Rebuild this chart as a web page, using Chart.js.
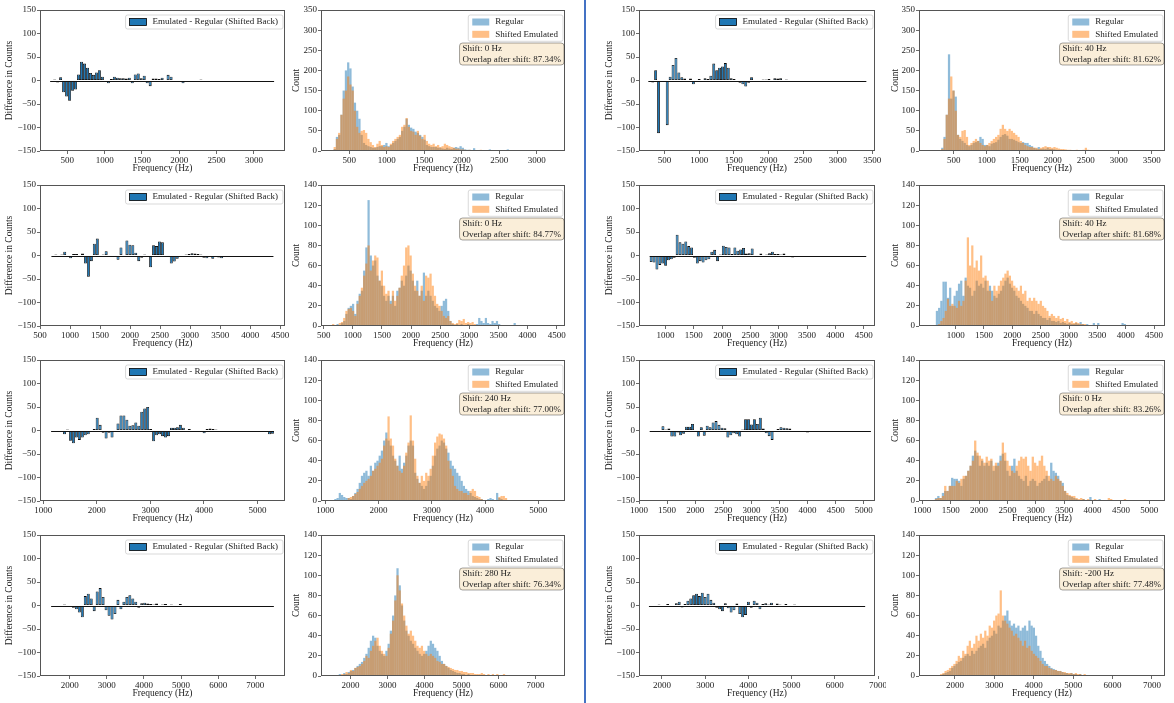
<!DOCTYPE html>
<html>
<head>
<meta charset="utf-8">
<script src="https://cdn.jsdelivr.net/npm/chart.js@4.4.1/dist/chart.umd.min.js"></script>
<style>
  html, body { margin: 0; padding: 0; background: #fff; width: 1174px; height: 703px; overflow: hidden; }
  .cell { position: absolute; }
  #divider { position: absolute; left: 584px; top: 0; width: 2px; height: 703px; background: #4472c4; }
</style>
</head>
<body>
<div id="divider"></div>
<script>
"use strict";

// ---- row 1, left (shift 0 Hz) ----
const r1LeftDiffBins = [270, 40];
const r1LeftDiff = [
  -1, 2, -4, 7, -25, -34, -43, -22, -19, 13,
  40, 36, 27, 16, 12, 17, 22, 8, 0, -6,
  3, 8, 6, 5, 5, 4, 6, -6, 13, 15,
  5, 10, -6, -12, 4, 4, 3, 6, 1, 12,
  8, 0, -3, -3, -6, -1, 0, -2, 0, 0,
  2, 0, -1, -2, 0, -1, 0, 0, -1, -3,
  -2, 0, 0, 0, 0, 1, -1, 0, 0, 0,
  0, 0, -1, 0, -1];
const r1LeftHistBins = [290, 30];
const r1LeftRegular = [
  5, 35, 40, 90, 150, 200, 220, 205, 160, 120,
  100, 80, 40, 20, 15, 12, 10, 8, 8, 10,
  12, 12, 15, 20, 12, 15, 20, 25, 30, 35,
  50, 60, 80, 65, 58, 55, 48, 45, 40, 35,
  28, 15, 12, 10, 10, 10, 8, 8, 6, 5,
  8, 6, 5, 8, 10, 8, 12, 8, 4, 3,
  3, 2, 7, 2, 1, 2, 2, 1, 2, 4,
  2, 1, 1, 2, 1, 1, 2, 4, 1, 1,
  0, 1, 1, 0, 1, 0, 1, 0, 1, 0,
  0, 1, 0, 0, 1, 0, 0, 1, 0, 0];
const r1LeftEmulated = [
  10, 30, 45, 90, 130, 150, 185, 165, 150, 100,
  60, 45, 50, 52, 45, 30, 22, 15, 10, 18,
  25, 15, 10, 12, 10, 18, 25, 30, 35, 40,
  60, 65, 82, 60, 50, 48, 40, 50, 38, 30,
  40, 25, 18, 15, 18, 12, 15, 10, 12, 18,
  15, 12, 10, 8, 6, 6, 4, 4, 3, 2,
  3, 2, 1, 2, 1, 3, 2, 1, 1, 2,
  1, 1, 0, 1, 1, 0, 1, 1, 0, 1,
  0, 0, 1, 0, 0, 1, 0, 0, 0, 0,
  1, 0, 0, 0, 0, 0, 1, 0, 0, 1];
const r1LeftNote = ['Shift: 0 Hz', 'Overlap after shift: 87.34%'];

// ---- row 1, right (shift 40 Hz) ----
const r1RightDiffBins = [265, 42];
const r1RightDiff = [
  -1, -4, 22, -112, 0, -2, -95, 8, 33, 48,
  17, 7, 4, 0, 4, -8, -2, 3, 0, 5,
  3, 10, 36, 22, 27, 30, 37, 27, 5, 3,
  -2, -5, -8, -13, -5, 7, -2, -2, 0, 2,
  2, 3, -2, 5, 4, 5, 0, 2, 0, -1,
  0, -2, 1, 1, 0, -1, 0, 0, 1, 0,
  0, -1, 0, 0, 0, 1, 0, 0, 0, 0,
  1, 0, 0, 0, -1];
const r1RightHistBins = [140, 34];
const r1RightRegular = [
  0, 0, 1, 0, 2, 8, 35, 90, 240, 130,
  150, 135, 40, 30, 25, 20, 15, 12, 15, 20,
  22, 25, 35, 30, 15, 15, 12, 18, 20, 22,
  28, 35, 40, 42, 38, 30, 30, 28, 25, 22,
  20, 22, 20, 20, 15, 12, 8, 6, 10, 5,
  6, 5, 8, 5, 5, 4, 3, 3, 2, 2,
  1, 2, 1, 1, 2, 1, 1, 0, 1, 1,
  1, 0, 1, 0, 1, 0, 0, 1, 0, 0,
  1, 0, 0, 0, 1, 0, 0, 0, 1, 0,
  0, 0, 1, 0, 0, 0, 0, 1, 0, 0];
const r1RightEmulated = [
  0, 0, 0, 1, 2, 5, 30, 90, 130, 185,
  150, 100, 40, 35, 50, 52, 35, 15, 20, 25,
  30, 25, 20, 15, 12, 15, 20, 25, 30, 35,
  40, 55, 65, 55, 50, 55, 50, 45, 40, 35,
  25, 20, 15, 12, 10, 10, 8, 8, 5, 8,
  10, 12, 10, 10, 8, 10, 8, 6, 5, 5,
  4, 3, 3, 2, 2, 3, 2, 2, 3, 8,
  3, 2, 1, 1, 1, 0, 1, 1, 0, 1,
  0, 1, 0, 0, 1, 0, 0, 0, 1, 0,
  0, 1, 0, 0, 0, 0, 1, 0, 0, 0];
const r1RightNote = ['Shift: 40 Hz', 'Overlap after shift: 81.62%'];

// ---- row 2, left (shift 0 Hz) ----
const r2LeftDiffBins = [690, 49.3];
const r2LeftDiff = [
  0, 2, 1, 2, 8, -1, -6, 3, 3, -3,
  4, -17, -45, -12, 25, 36, -2, 2, 9, 0,
  -1, -2, -9, 17, -2, 32, 23, 22, 6, -12,
  -5, 2, -1, -25, 22, 20, 30, 28, 0, -2,
  -17, -13, -7, 1, 0, 2, 3, 5, 4, 3,
  2, -5, -6, -1, -7, -3, -4, -6, -3, 0,
  1, 0, -1, 0, 0, 1, 0, -1, 0, 0,
  0, 1, 0, 0, 0];
const r2LeftHistBins = [644, 38];
const r2LeftRegular = [
  1, 0, 2, 1, 3, 5, 12, 18, 20, 22,
  12, 25, 32, 35, 55, 78, 125, 70, 60, 65,
  50, 45, 40, 30, 25, 30, 25, 30, 20, 35,
  38, 45, 40, 50, 60, 55, 45, 35, 45, 30,
  35, 53, 30, 35, 30, 25, 20, 18, 15, 20,
  25, 27, 15, 5, 2, 1, 2, 1, 2, 1,
  1, 2, 1, 0, 1, 2, 8, 5, 3, 8,
  3, 2, 5, 3, 5, 2, 1, 1, 0, 1,
  0, 1, 3, 0, 1, 0, 1, 0, 0, 1,
  0, 0, 0, 1, 0, 0, 0, 1, 0, 0];
const r2LeftEmulated = [
  2, 1, 1, 3, 4, 8, 15, 17, 18, 15,
  10, 22, 30, 38, 50, 62, 80, 55, 65, 70,
  68, 45, 55, 40, 32, 35, 22, 35, 25, 30,
  38, 50, 60, 78, 80, 70, 52, 40, 35, 30,
  40, 25, 50, 48, 52, 40, 30, 22, 20, 15,
  10, 8, 10, 5, 3, 2, 3, 6, 5, 7,
  3, 4, 3, 4, 2, 1, 1, 0, 1, 0,
  1, 0, 0, 1, 0, 0, 0, 1, 0, 0,
  0, 0, 0, 0, 0, 1, 0, 0, 0, 0,
  0, 1, 0, 0, 0, 0, 1, 0, 0, 1];
const r2LeftNote = ['Shift: 0 Hz', 'Overlap after shift: 84.77%'];

// ---- row 2, right (shift 40 Hz) ----
const r2RightDiffBins = [720, 51];
const r2RightDiff = [
  -14, -15, -30, -20, -17, -22, -10, -8, -5, 44,
  28, 25, 30, 20, 17, -5, -17, -12, -15, -10,
  -8, 8, 12, -12, 2, 21, 18, 17, 3, 17,
  10, 13, 16, 4, 5, 15, 0, 1, 4, -3,
  2, 5, 8, 3, 3, 2, 4, -2, -1, -4,
  -1, 0, -1, 1, -2, 0, 0, 1, 0, 1,
  0, -1, 0, -2, 0, 1, 0, 0, 0, 0,
  1, 0, 0, 0, 0];
const r2RightHistBins = [650, 39];
const r2RightRegular = [
  15, 18, 25, 44, 44, 28, 38, 20, 30, 35,
  42, 45, 30, 48, 40, 38, 30, 35, 45, 40,
  42, 38, 45, 35, 40, 35, 30, 28, 32, 35,
  40, 45, 48, 42, 38, 35, 30, 28, 25, 22,
  20, 18, 15, 15, 12, 15, 12, 10, 8, 8,
  6, 8, 5, 5, 4, 5, 3, 4, 3, 2,
  3, 2, 2, 3, 2, 4, 2, 1, 2, 1,
  1, 3, 1, 3, 1, 0, 1, 0, 1, 0,
  1, 0, 0, 1, 3, 2, 0, 1, 0, 0,
  1, 0, 0, 0, 0, 1, 0, 0, 1, 0];
const r2RightEmulated = [
  0, 2, 5, 8, 15, 27, 20, 22, 20, 18,
  25, 20, 25, 45, 88, 60, 80, 58, 65, 55,
  70, 48, 50, 45, 35, 25, 40, 35, 40, 45,
  48, 52, 55, 50, 45, 40, 38, 35, 40, 32,
  35, 25, 28, 25, 28, 25, 22, 25, 20, 18,
  15, 10, 12, 10, 8, 10, 7, 8, 5, 7,
  4, 5, 3, 4, 3, 2, 2, 2, 1, 1,
  1, 0, 1, 0, 1, 0, 0, 1, 0, 0,
  0, 0, 1, 0, 0, 1, 1, 0, 0, 0,
  0, 0, 1, 0, 0, 0, 0, 0, 0, 0];
const r2RightNote = ['Shift: 40 Hz', 'Overlap after shift: 81.68%'];

// ---- row 3, left (shift 240 Hz) ----
const r3LeftDiffBins = [1146, 55.5];
const r3LeftDiff = [
  -2, -3, -1, 0, -8, 2, -22, -27, -15, -20,
  -15, -10, -8, -3, 3, 27, 12, -5, -17, -5,
  -15, -2, 15, 32, 32, 23, 10, 11, 17, 10,
  40, 47, 50, 3, -23, -10, -8, -12, -15, -12,
  6, 6, 7, 12, 6, 0, 3, 0, -2, -2,
  -3, -6, 3, 4, 3, 2, 0, -1, -1, 0,
  1, 0, 1, 0, 0, 1, 0, 0, 0, 0,
  -1, -2, -3, -8, -7];
const r3LeftHistBins = [1127, 41.6];
const r3LeftRegular = [
  1, 2, 3, 8, 6, 4, 3, 3, 2, 5,
  8, 12, 18, 25, 28, 30, 25, 35, 30, 38,
  40, 45, 50, 60, 68, 60, 55, 45, 40, 35,
  45, 32, 38, 45, 55, 60, 55, 28, 22, 18,
  15, 12, 15, 20, 25, 35, 45, 52, 55, 60,
  58, 52, 48, 40, 35, 32, 28, 25, 20, 15,
  12, 10, 8, 5, 4, 3, 2, 2, 1, 1,
  2, 3, 2, 1, 8, 3, 2, 1, 1, 0,
  1, 0, 0, 1, 0, 1, 0, 0, 1, 0,
  0, 1, 0, 1, 0, 0, 1, 0, 0, 1];
const r3LeftEmulated = [
  0, 0, 0, 1, 0, 1, 1, 3, 4, 5,
  7, 9, 12, 15, 18, 20, 22, 25, 30, 32,
  35, 38, 42, 55, 62, 84, 62, 55, 42, 35,
  30, 28, 35, 48, 58, 85, 60, 42, 25, 18,
  25, 20, 28, 25, 32, 45, 58, 64, 67, 66,
  62, 55, 40, 32, 25, 15, 12, 10, 10, 8,
  8, 6, 10, 12, 10, 5, 4, 2, 1, 0,
  1, 0, 1, 0, 1, 4, 5, 5, 3, 1,
  0, 1, 0, 0, 0, 0, 1, 0, 0, 0,
  0, 0, 1, 0, 0, 0, 0, 0, 0, 0];
const r3LeftNote = ['Shift: 240 Hz', 'Overlap after shift: 77.00%'];

// ---- row 3, right (shift 0 Hz) ----
const r3RightDiffBins = [1190, 52.5];
const r3RightDiff = [
  0, 0, -1, -2, 9, 2, 4, -13, -13, -4,
  -10, -7, 8, 8, 14, -2, -13, 7, -11, 10,
  7, 17, 20, 12, 6, 5, -15, -10, -6, -8,
  -13, 2, 24, 24, 13, 24, 14, 27, 4, -6,
  -12, -20, -3, 3, 7, 6, 5, 4, 1, 0,
  0, -1, 0, -4, 0, -1, 0, -1, -2, 0,
  -1, 0, -1, 0, 0, -1, 0, 0, 0, -1,
  0, 0, 0, 0, 0];
const r3RightHistBins = [1140, 40.6];
const r3RightRegular = [
  1, 1, 3, 5, 3, 8, 10, 10, 15, 23,
  22, 22, 20, 15, 22, 25, 30, 35, 45, 50,
  45, 35, 40, 35, 38, 35, 40, 30, 35, 38,
  45, 47, 40, 30, 25, 35, 42, 30, 25, 22,
  20, 25, 15, 20, 22, 20, 15, 18, 20, 22,
  25, 20, 38, 30, 28, 25, 20, 18, 10, 6,
  5, 4, 3, 2, 1, 1, 2, 1, 1, 4,
  1, 0, 1, 2, 1, 0, 1, 0, 1, 0,
  1, 0, 1, 0, 0, 1, 0, 0, 0, 1,
  0, 0, 0, 0, 1, 0, 0, 0, 1, 0];
const r3RightEmulated = [
  0, 0, 2, 3, 3, 5, 15, 10, 15, 15,
  15, 20, 18, 22, 25, 25, 30, 35, 40, 60,
  48, 45, 42, 38, 44, 40, 42, 35, 38, 35,
  40, 58, 48, 40, 35, 30, 28, 35, 40, 44,
  42, 44, 35, 30, 44, 38, 35, 40, 45, 35,
  30, 25, 22, 20, 25, 22, 20, 15, 10, 8,
  6, 5, 5, 3, 2, 3, 2, 1, 2, 1,
  1, 2, 1, 1, 0, 1, 1, 3, 2, 1,
  0, 1, 1, 0, 2, 0, 0, 1, 0, 0,
  1, 0, 0, 1, 0, 0, 0, 0, 0, 0];
const r3RightNote = ['Shift: 0 Hz', 'Overlap after shift: 83.26%'];

// ---- row 4, left (shift 280 Hz) ----
const r4LeftDiffBins = [1500, 80];
const r4LeftDiff = [
  0, -1, 1, -2, 2, -3, 1, -5, -8, -15,
  -25, 20, 25, 15, -12, 30, 37, 18, -10, -22,
  -30, -18, 12, -8, 8, 18, 22, 15, 8, -5,
  5, 6, 4, 3, 2, 4, -3, 2, 3, -2,
  2, 1, -2, 3, 1, -1, 0, 1, -1, 0,
  0, 1, 0, 0, -1, 0, 0, 1, 0, 0,
  0, 0, -1, 0, 0, 0, 1, 0, 0, 0,
  0, 0, 0, -1, 0];
const r4LeftHistBins = [1500, 60];
const r4LeftRegular = [
  0, 1, 0, 2, 1, 3, 2, 4, 5, 6,
  8, 10, 12, 14, 18, 22, 28, 35, 40, 38,
  30, 25, 22, 20, 25, 32, 45, 60, 80, 107,
  90, 70, 55, 45, 40, 35, 32, 28, 25, 22,
  20, 22, 25, 30, 35, 32, 28, 25, 20, 15,
  12, 10, 8, 6, 5, 4, 3, 3, 2, 2,
  1, 2, 1, 1, 0, 1, 0, 1, 0, 0,
  1, 0, 0, 0, 1, 0, 0, 0, 1, 0,
  0, 0, 0, 1, 0, 0, 0, 0, 1, 0,
  0, 0, 0, 1, 0, 0, 0, 0, 0, 1];
const r4LeftEmulated = [
  1, 0, 1, 1, 2, 2, 4, 3, 6, 5,
  8, 9, 10, 12, 15, 20, 18, 25, 30, 35,
  38, 30, 25, 22, 20, 28, 42, 55, 75, 100,
  85, 72, 60, 50, 42, 45, 40, 35, 30, 28,
  30, 25, 22, 20, 22, 20, 18, 15, 14, 12,
  12, 10, 9, 8, 7, 6, 6, 5, 5, 4,
  4, 3, 3, 3, 2, 2, 2, 3, 2, 1,
  2, 1, 2, 1, 2, 1, 1, 2, 1, 0,
  1, 0, 1, 0, 0, 1, 0, 0, 0, 0,
  1, 0, 0, 0, 0, 0, 0, 1, 0, 0];
const r4LeftNote = ['Shift: 280 Hz', 'Overlap after shift: 76.34%'];

// ---- row 4, right (shift -200 Hz) ----
const r4RightDiffBins = [1700, 66.7];
const r4RightDiff = [
  0, 1, -1, 2, 0, -2, 3, 1, -3, 5,
  8, -4, 3, 10, 15, 22, 25, 20, 27, 18,
  25, 12, 6, -5, -8, -12, 5, -6, -15, -10,
  4, -18, -25, -20, 8, -5, 10, 6, -8, 3,
  5, 2, 6, -3, 4, 2, -2, 3, 1, -1,
  2, 0, 1, -1, 0, 1, 0, 0, -1, 0,
  0, 1, 0, 0, 0, -1, 0, 0, 0, 1,
  0, 0, 0, 0, 0];
const r4RightHistBins = [1400, 56];
const r4RightRegular = [
  0, 0, 0, 1, 1, 2, 3, 4, 5, 8,
  10, 12, 14, 15, 18, 20, 22, 20, 25, 22,
  25, 28, 30, 32, 28, 35, 38, 40, 45, 42,
  50, 48, 55, 60, 65, 55, 50, 52, 48, 50,
  45, 48, 50, 45, 55, 50, 48, 40, 30, 25,
  18, 15, 12, 10, 8, 7, 6, 5, 5, 4,
  3, 3, 2, 3, 2, 2, 1, 2, 1, 1,
  0, 1, 0, 1, 0, 0, 1, 0, 0, 0,
  1, 0, 0, 0, 0, 1, 0, 0, 0, 0,
  0, 1, 0, 0, 0, 1, 0, 0, 0, 0];
const r4RightEmulated = [
  0, 0, 0, 0, 2, 3, 5, 6, 8, 10,
  12, 15, 20, 18, 25, 22, 30, 35, 28, 32,
  40, 35, 42, 38, 45, 40, 50, 48, 55, 60,
  62, 85, 60, 55, 52, 48, 45, 40, 42, 38,
  35, 30, 35, 28, 30, 25, 22, 20, 18, 15,
  12, 10, 10, 8, 7, 6, 6, 5, 5, 4,
  4, 3, 3, 3, 2, 3, 2, 2, 1, 2,
  1, 1, 1, 0, 1, 0, 0, 1, 0, 0,
  0, 1, 0, 0, 0, 0, 0, 1, 0, 0,
  0, 0, 0, 0, 1, 0, 0, 0, 0, 0];
const r4RightNote = ['Shift: -200 Hz', 'Overlap after shift: 77.48%'];

// ---- axis limits and ticks ----
const r1Ticks = [500, 1000, 1500, 2000, 2500, 3000];
const r1RightTicks = [500, 1000, 1500, 2000, 2500, 3000, 3500];
const r2LeftTicks = [500, 1000, 1500, 2000, 2500, 3000, 3500, 4000, 4500];
const r2RightTicks = [1000, 1500, 2000, 2500, 3000, 3500, 4000, 4500];
const r3LeftTicks = [1000, 2000, 3000, 4000, 5000];
const r3RightTicks = [1000, 1500, 2000, 2500, 3000, 3500, 4000, 4500, 5000];
const r4Ticks = [2000, 3000, 4000, 5000, 6000, 7000];
const diffYTicks = [-150, -100, -50, 0, 50, 100, 150];
const histYTicksTall = [0, 50, 100, 150, 200, 250, 300, 350];
const histYTicks = [0, 20, 40, 60, 80, 100, 120, 140];

const FONT = "'Liberation Serif', 'DejaVu Serif', serif";
const TEXT = '#222';
const BLUE = '#1f77b4';
const BLUE_A = 'rgba(31, 119, 180, 0.5)';
const ORANGE_A = 'rgba(255, 127, 14, 0.5)';

// cell geometry: left pad places the y title, yW is the y-axis box width
const COLS = [
  { x: 0, w: 290, padL: 4, yW: 36, padR: 5 },
  { x: 290, w: 290, padL: 1, yW: 30, padR: 15 },
  { x: 590, w: 296, padL: 14, yW: 35, padR: 11 },
  { x: 880, w: 294, padL: 10, yW: 29, padR: 9 },
];
const ROWS = [0, 175, 350, 525];
const CELL_H = 175;
const PAD_TOP = 10;
const X_AXIS_H = 24;

const fmtTick = (v) => (v < 0 ? '\u2212' + Math.abs(v) : String(v));

const binCenters = (bins, n) => Array.from({ length: n }, (_, i) => bins[0] + bins[1] * (i + 0.5));

const toPoints = (bins, values) => {
  const xs = binCenters(bins, values.length);
  return values.map((v, i) => ({ x: xs[i], y: v }));
};

const boxPath = (ctx, x, y, w, h, r) => {
  ctx.beginPath();
  ctx.moveTo(x + r, y);
  ctx.lineTo(x + w - r, y);
  ctx.quadraticCurveTo(x + w, y, x + w, y + r);
  ctx.lineTo(x + w, y + h - r);
  ctx.quadraticCurveTo(x + w, y + h, x + w - r, y + h);
  ctx.lineTo(x + r, y + h);
  ctx.quadraticCurveTo(x, y + h, x, y + h - r);
  ctx.lineTo(x, y + r);
  ctx.quadraticCurveTo(x, y, x + r, y);
  ctx.closePath();
};

// zero line, frame, legend and note box, drawn over the bars
const makeDecor = (p) => ({
  id: 'decor',
  afterDatasetsDraw(chart) {
    const { ctx, chartArea: a, scales } = chart;
    ctx.save();

    if (p.zero) {
      const y = Math.round(scales.y.getPixelForValue(0)) + 0.5;
      ctx.strokeStyle = '#111';
      ctx.lineWidth = 1;
      ctx.beginPath();
      ctx.moveTo(scales.x.getPixelForValue(p.zero[0]), y);
      ctx.lineTo(scales.x.getPixelForValue(p.zero[1]), y);
      ctx.stroke();
    }

    ctx.strokeStyle = '#555';
    ctx.lineWidth = 1;
    ctx.strokeRect(a.left + 0.5, a.top + 0.5, a.right - a.left - 1, a.bottom - a.top - 1);

    ctx.font = '9px ' + FONT;
    ctx.textBaseline = 'middle';
    const textW = Math.max(...p.legend.map((it) => ctx.measureText(it.label).width));
    const lw = 27 + textW + 5;
    const lh = 14 + 12.3 * (p.legend.length - 1);
    const lx = a.right - 2 - lw;
    const ly = a.top + 5;
    boxPath(ctx, lx, ly, lw, lh, 2);
    ctx.fillStyle = 'rgba(255,255,255,0.85)';
    ctx.fill();
    ctx.strokeStyle = '#cfcfcf';
    ctx.lineWidth = 0.8;
    ctx.stroke();
    p.legend.forEach((it, i) => {
      const cy = ly + 7 + 12.3 * i;
      ctx.fillStyle = it.fill;
      ctx.fillRect(lx + 4, cy - 3.5, 17, 7);
      if (it.stroke) {
        ctx.strokeStyle = it.stroke;
        ctx.lineWidth = 0.8;
        ctx.strokeRect(lx + 4, cy - 3.5, 17, 7);
      }
      ctx.fillStyle = TEXT;
      ctx.fillText(it.label, lx + 27, cy);
    });

    if (p.note) {
      const nw = Math.max(...p.note.map((t) => ctx.measureText(t).width)) + 6;
      const nh = 22;
      const nx = a.right - 1 - nw;
      const ny = a.top + 33;
      boxPath(ctx, nx, ny, nw, nh, 3);
      ctx.fillStyle = 'rgba(245, 222, 179, 0.5)';
      ctx.fill();
      ctx.strokeStyle = 'rgba(0, 0, 0, 0.45)';
      ctx.lineWidth = 0.8;
      ctx.stroke();
      ctx.fillStyle = TEXT;
      p.note.forEach((t, i) => ctx.fillText(t, nx + 3, ny + 6 + 10.7 * i));
    }
    ctx.restore();
  },
});

const axisCommon = {
  offset: false,
  grid: { display: true, offset: false, drawOnChartArea: false, drawTicks: true, tickLength: 3, color: '#444', lineWidth: 0.8 },
  border: { display: false },
};

const buildChart = (p) => {
  const col = COLS[p.col];
  const cell = document.createElement('div');
  cell.className = 'cell';
  cell.style.left = col.x + 'px';
  cell.style.top = ROWS[p.row] + 'px';
  cell.style.width = col.w + 'px';
  cell.style.height = CELL_H + 'px';
  const canvas = document.createElement('canvas');
  canvas.width = col.w;
  canvas.height = CELL_H;
  canvas.style.width = col.w + 'px';
  canvas.style.height = CELL_H + 'px';
  cell.appendChild(canvas);
  document.body.appendChild(cell);

  new Chart(canvas, {
    type: 'bar',
    data: { datasets: p.datasets },
    options: {
      responsive: false,
      animation: false,
      events: [],
      layout: { padding: { top: PAD_TOP, right: col.padR, left: col.padL, bottom: 0 } },
      plugins: { legend: { display: false }, tooltip: { enabled: false } },
      scales: {
        x: {
          ...axisCommon,
          type: 'linear',
          min: p.xRange[0],
          max: p.xRange[1],
          afterBuildTicks: (s) => { s.ticks = p.xTicks.map((v) => ({ value: v })); },
          afterFit: (s) => { s.height = X_AXIS_H; s.paddingLeft = 0; s.paddingRight = 0; },
          ticks: { font: { family: FONT, size: 9 }, color: TEXT, padding: 1, maxRotation: 0, autoSkip: false, callback: fmtTick },
          title: { display: true, text: 'Frequency (Hz)', font: { family: FONT, size: 9.5 }, color: TEXT, padding: { top: 0, bottom: 1 } },
        },
        y: {
          ...axisCommon,
          type: 'linear',
          min: p.yTicks[0],
          max: p.yTicks[p.yTicks.length - 1],
          afterBuildTicks: (s) => { s.ticks = p.yTicks.map((v) => ({ value: v })); },
          afterFit: (s) => { s.width = col.yW; s.paddingTop = 0; s.paddingBottom = 0; },
          ticks: { font: { family: FONT, size: 9 }, color: TEXT, padding: 1, autoSkip: false, callback: fmtTick },
          title: { display: true, text: p.yTitle, font: { family: FONT, size: 9.5 }, color: TEXT, padding: { top: 0, bottom: 0 } },
        },
      },
    },
    plugins: [makeDecor(p)],
  });
};

const diffPanel = (row, col, bins, values, xRange, xTicks) => ({
  row, col, xRange, xTicks,
  yTicks: diffYTicks,
  yTitle: 'Difference in Counts',
  zero: [bins[0], bins[0] + bins[1] * values.length],
  legend: [{ label: 'Emulated - Regular (Shifted Back)', fill: BLUE, stroke: '#000' }],
  datasets: [{
    label: 'Emulated - Regular (Shifted Back)',
    data: toPoints(bins, values),
    backgroundColor: BLUE,
    borderColor: '#0a0a0a',
    borderWidth: 0.8,
    borderSkipped: false,
    inflateAmount: 0,
    barPercentage: 1,
    categoryPercentage: 1,
  }],
});

const histPanel = (row, col, bins, regular, emulated, note, xRange, xTicks, yTicks) => ({
  row, col, xRange, xTicks, yTicks, note,
  yTitle: 'Count',
  legend: [{ label: 'Regular', fill: BLUE_A }, { label: 'Shifted Emulated', fill: ORANGE_A }],
  datasets: [
    { label: 'Regular', data: toPoints(bins, regular), backgroundColor: BLUE_A, borderWidth: 0,
      inflateAmount: 0, barPercentage: 1, categoryPercentage: 1, grouped: false, order: 1 },
    { label: 'Shifted Emulated', data: toPoints(bins, emulated), backgroundColor: ORANGE_A, borderWidth: 0,
      inflateAmount: 0, barPercentage: 1, categoryPercentage: 1, grouped: false, order: 0 },
  ],
});

const panels = [
  diffPanel(0, 0, r1LeftDiffBins, r1LeftDiff, [134, 3416], r1Ticks),
  histPanel(0, 1, r1LeftHistBins, r1LeftRegular, r1LeftEmulated, r1LeftNote, [122, 3378], r1Ticks, histYTicksTall),
  diffPanel(0, 2, r1RightDiffBins, r1RightDiff, [130, 3540], r1RightTicks),
  histPanel(0, 3, r1RightHistBins, r1RightRegular, r1RightEmulated, r1RightNote, [-26, 3702], r1RightTicks, histYTicksTall),

  diffPanel(1, 0, r2LeftDiffBins, r2LeftDiff, [500, 4580], r2LeftTicks),
  histPanel(1, 1, r2LeftHistBins, r2LeftRegular, r2LeftEmulated, r2LeftNote, [454, 4643], r2LeftTicks, histYTicks),
  diffPanel(1, 2, r2RightDiffBins, r2RightDiff, [531, 4700], r2RightTicks),
  histPanel(1, 3, r2RightHistBins, r2RightRegular, r2RightEmulated, r2RightNote, [353, 4694], r2RightTicks, histYTicks),

  diffPanel(2, 0, r3LeftDiffBins, r3LeftDiff, [938, 5515], r3LeftTicks),
  histPanel(2, 1, r3LeftHistBins, r3LeftRegular, r3LeftEmulated, r3LeftNote, [919, 5500], r3LeftTicks, histYTicks),
  diffPanel(2, 2, r3RightDiffBins, r3RightDiff, [1000, 5200], r3RightTicks),
  histPanel(2, 3, r3RightHistBins, r3RightRegular, r3RightEmulated, r3RightNote, [941, 5276], r3RightTicks, histYTicks),

  diffPanel(3, 0, r4LeftDiffBins, r4LeftDiff, [1200, 7800], r4Ticks),
  histPanel(3, 1, r4LeftHistBins, r4LeftRegular, r4LeftEmulated, r4LeftNote, [1200, 7800], r4Ticks, histYTicks),
  diffPanel(3, 2, r4RightDiffBins, r4RightDiff, [1470, 6930], r4Ticks),
  histPanel(3, 3, r4RightHistBins, r4RightRegular, r4RightEmulated, r4RightNote, [1090, 7330], r4Ticks, histYTicks),
];

panels.forEach(buildChart);
</script>
</body>
</html>
